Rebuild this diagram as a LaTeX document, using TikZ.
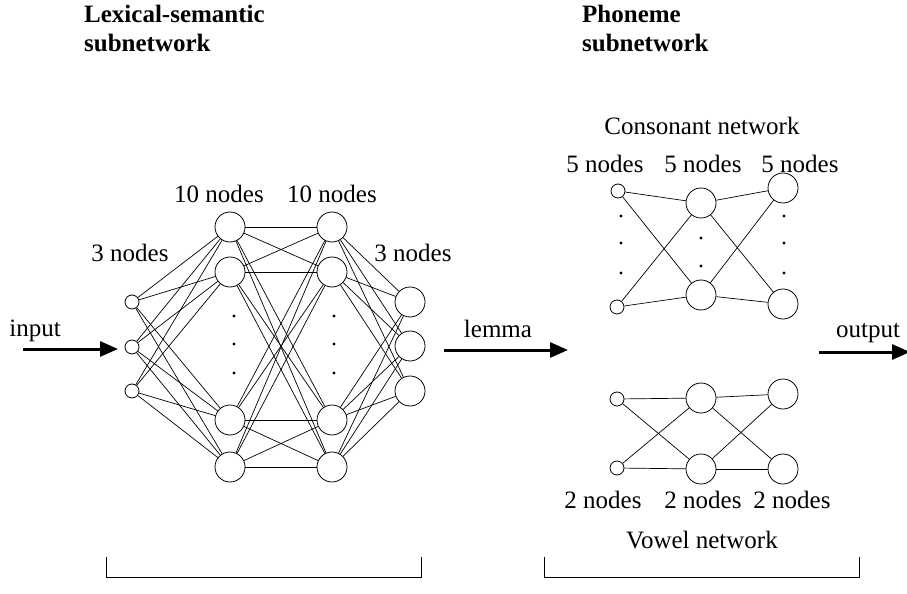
\documentclass[tikz,border=0pt]{standalone}
\usepackage{fontspec}
\setmainfont{Liberation Serif}
\usetikzlibrary{arrows.meta}
\tikzset{
  inunit/.style={circle, draw, inner sep=0pt, minimum size=14bp, line width=0.8bp},
  neuron/.style={circle, draw, inner sep=0pt, minimum size=30bp, line width=0.8bp},
  link/.style={line width=0.7bp},
  flow/.style={line width=3bp, -{Triangle[length=18bp, width=15bp]}},
  lbl/.style={anchor=base, inner sep=0pt},
  title/.style={anchor=base west, inner sep=0pt, font=\fontsize{25bp}{29bp}\selectfont\bfseries}
}
\begin{document}
\begin{tikzpicture}[x=1bp, y=-1bp, font=\fontsize{25bp}{29bp}\selectfont]
      \useasboundingbox (0,0) rectangle (907,594);
      \node[title] (lex1) at (84,23) {Lexical-semantic};
      \node[title] (lex2) at (84,52) {subnetwork};
      \node[title] (pho1) at (582,23) {Phoneme};
      \node[title] (pho2) at (582,52) {subnetwork};
      \node[inunit] (l1) at (132,302) {};
      \node[inunit] (l2) at (132,347) {};
      \node[inunit] (l3) at (132,391) {};
      \node[neuron] (h1) at (230,227) {};
      \node[neuron] (h2) at (230,272) {};
      \node[neuron] (h3) at (230,420) {};
      \node[neuron] (h4) at (230,467) {};
      \node[neuron] (k1) at (332,227) {};
      \node[neuron] (k2) at (332,272) {};
      \node[neuron] (k3) at (332,420) {};
      \node[neuron] (k4) at (332,467) {};
      \node[neuron] (m1) at (410,302) {};
      \node[neuron] (m2) at (410,346) {};
      \node[neuron] (m3) at (410,391) {};
      \node[inunit] (ci1) at (618,191) {};
      \node[inunit] (ci2) at (617,307) {};
      \node[neuron] (ch1) at (701,203) {};
      \node[neuron] (ch2) at (701,295) {};
      \node[neuron] (co1) at (783,188) {};
      \node[neuron] (co2) at (783,304) {};
      \node[inunit] (vi1) at (617,399) {};
      \node[inunit] (vi2) at (617,468) {};
      \node[neuron] (vh1) at (701,398) {};
      \node[neuron] (vh2) at (701,469) {};
      \node[neuron] (vo1) at (783,394) {};
      \node[neuron] (vo2) at (783,469) {};
      \foreach \source in {l1,l2,l3}
        \foreach \dest in {h1,h2,h3,h4}
          \path[link] (\source) edge (\dest);
      \foreach \source in {h1,h2,h3,h4}
        \foreach \dest in {k1,k2,k3,k4}
          \path[link] (\source) edge (\dest);
      \foreach \source in {k1,k2,k3,k4}
        \foreach \dest in {m1,m2,m3}
          \path[link] (\source) edge (\dest);
      \foreach \source/\dest in {ci1/ch1, ci1/ch2, ci2/ch1, ci2/ch2, ch1/co1, ch1/co2, ch2/co1, ch2/co2, vi1/vh1, vi1/vh2, vi2/vh1, vi2/vh2, vh1/vo1, vh1/vo2, vh2/vo1, vh2/vo2}
        \path[link] (\source) edge (\dest);
      \foreach \xpos/\ypos in {234/316, 234/344, 234/373, 334/316, 334/344, 334/373, 621/216, 621/243, 621/273, 701/238, 701/266, 784/216, 784/243, 784/273}
        \fill (\xpos,\ypos) circle (1.6bp);
      \node[lbl] (t10a) at (219,203) {10 nodes};
      \node[lbl] (t10b) at (332,203) {10 nodes};
      \node[lbl] (t3a) at (130,262) {3 nodes};
      \node[lbl] (t3b) at (413,262) {3 nodes};
      \node[lbl] (cons) at (702,135) {Consonant network};
      \node[lbl] (t5a) at (605,173) {5 nodes};
      \node[lbl] (t5b) at (703,173) {5 nodes};
      \node[lbl] (t5c) at (800,173) {5 nodes};
      \node[lbl] (t2a) at (603,508) {2 nodes};
      \node[lbl] (t2b) at (703,508) {2 nodes};
      \node[lbl] (t2c) at (792,508) {2 nodes};
      \node[lbl] (vow) at (702,548) {Vowel network};
      \node[lbl] (tin) at (35,336) {input};
      \node[lbl] (tlem) at (498,337) {lemma};
      \node[lbl] (tout) at (868,337) {output};
      \coordinate (inA) at (23,349);
      \coordinate (inB) at (118,349);
      \coordinate (lemA) at (444,350);
      \coordinate (lemB) at (568,350);
      \coordinate (outA) at (819,352);
      \coordinate (outB) at (910,352);
      \draw[flow] (inA) -- (inB);
      \draw[flow] (lemA) -- (lemB);
      \draw[flow] (outA) -- (outB);
      \draw[line width=0.8bp] (106,557) -- (106,577) -- (421,577) -- (421,557);
      \draw[line width=0.8bp] (544,557) -- (544,577) -- (859,577) -- (859,557);
\end{tikzpicture}
\end{document}
